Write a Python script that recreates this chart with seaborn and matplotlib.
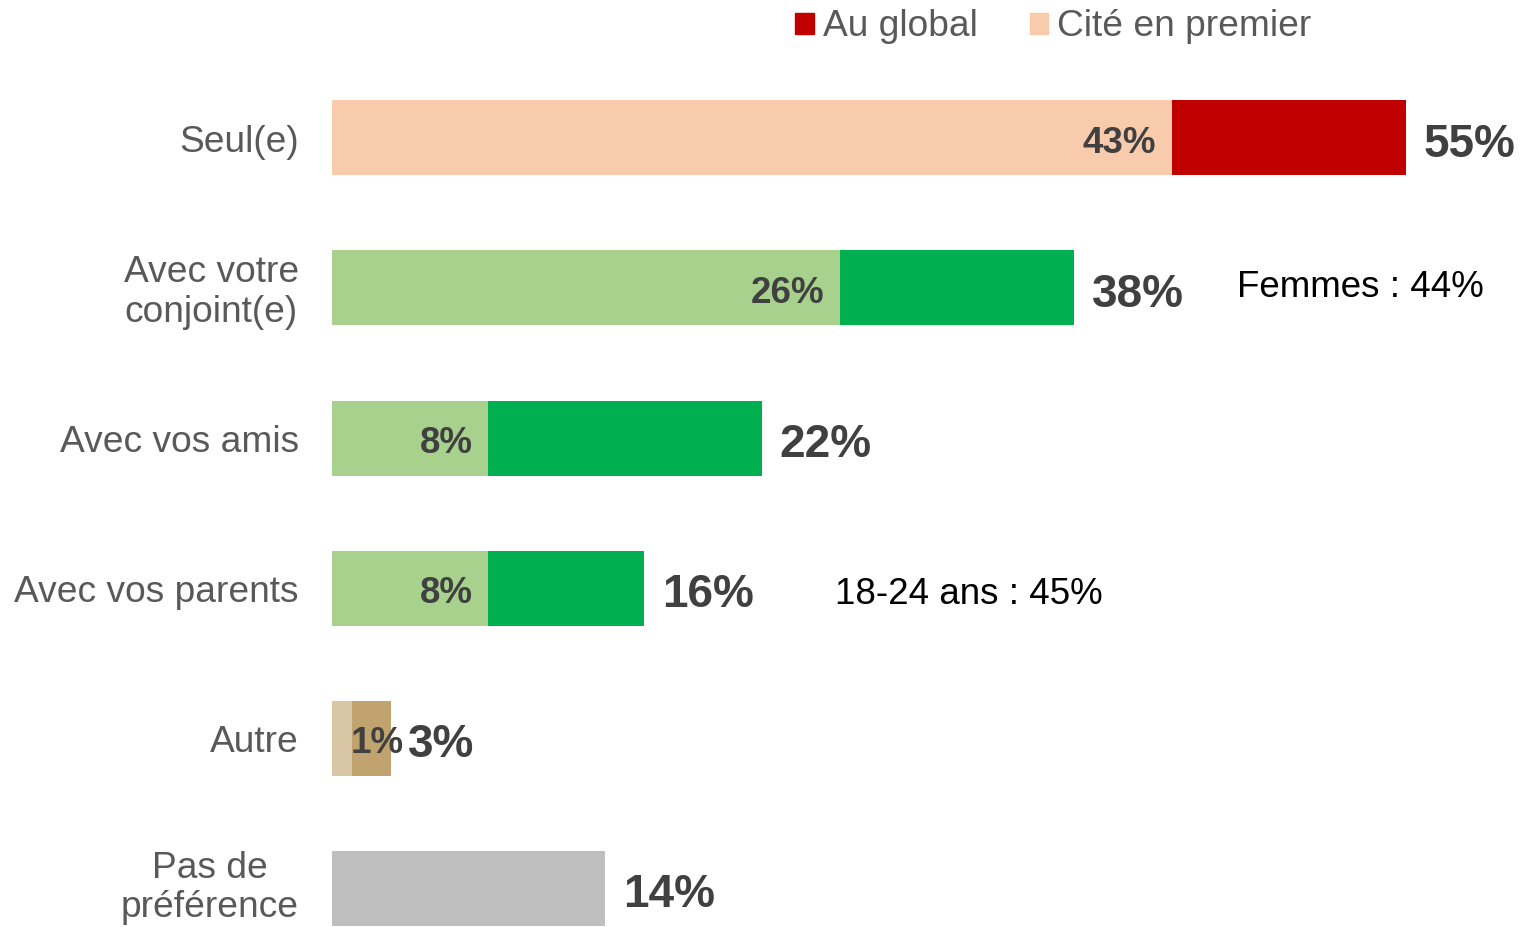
import pandas as pd
import matplotlib
matplotlib.use("Agg")
import matplotlib.pyplot as plt
from matplotlib.patches import Patch
import seaborn as sns

categories = ["Seul(e)", "Avec votre\nconjoint(e)", "Avec vos amis", "Avec vos parents", "Autre", "Pas de\npréférence"]
au_global = [55, 38, 22, 16, 3, 14]
cite_premier = [43, 26, 8, 8, 1, None]
notes = {1: "Femmes : 44%", 3: "18-24 ans : 45%"}
note_x = {1: 46.35, 3: 25.75}
note_dy = {1: 0.0, 3: 0.04}

global_colors = ["#C00000", "#00B050", "#00B050", "#00B050", "#C0A36E", "#BFBFBF"]
first_colors = ["#F8CBAD", "#A9D18E", "#A9D18E", "#A9D18E", "#D9C6A5", "#BFBFBF"]

sns.set_style("white")
plt.rcParams['font.family'] = ['Liberation Sans', 'DejaVu Sans']

df = pd.DataFrame({"cat": categories, "global": au_global,
                   "first": [v if v is not None else 0 for v in cite_premier]})

fig = plt.figure(figsize=(15.27, 9.27), dpi=100)
ax = fig.add_axes([332 / 1527, 0, 1 - 332 / 1527, 1])

sns.barplot(data=df, y="cat", x="global", hue="cat", palette=global_colors,
            width=0.5, orient="h", legend=False, ax=ax, saturation=1, linewidth=0)
sns.barplot(data=df, y="cat", x="first", hue="cat", palette=first_colors,
            width=0.5, orient="h", legend=False, ax=ax, saturation=1, linewidth=0)

ax.set_xlim(0, 1195 / 19.53)
ax.set_ylim(5.26, -0.92)
ax.set_xlabel("")
ax.set_ylabel("")
ax.set_xticks([])
ax.set_yticks([])
sns.despine(ax=ax, left=True, bottom=True)

for i, cat in enumerate(categories):
    dy = 0.0 if i == len(categories) - 1 else 0.03
    ax.text(-1.7, i + dy, cat, ha="right", va="center", multialignment="center",
            fontsize=26.7, color="#595959", linespacing=1.17)
    ax.text(au_global[i] + 0.9, i + 0.045, f"{au_global[i]}%", ha="left", va="center",
            fontsize=33, fontweight="bold", color="#404040")
    first = cite_premier[i]
    if first is not None:
        if first >= 5:
            ax.text(first - 0.8, i + 0.035, f"{first}%", ha="right", va="center",
                    fontsize=26.5, fontweight="bold", color="#404040")
        else:
            ax.text(first - 0.05, i + 0.035, f"{first}%", ha="left", va="center",
                    fontsize=26.5, fontweight="bold", color="#404040")
    if i in notes:
        ax.text(note_x[i], i + note_dy[i], notes[i], ha="left", va="center",
                fontsize=26.5, color="black")

handles = [Patch(color="#C00000", label="Au global"),
           Patch(color="#F8CBAD", label="Cité en premier")]
fig.legend(handles=handles, loc="center left", bbox_to_anchor=(795 / 1527, 1 - 27 / 927),
           ncol=2, frameon=False, fontsize=26.7, labelcolor="#595959",
           handlelength=0.5, handleheight=0.5, handletextpad=0.25, columnspacing=1.4,
           borderpad=0, borderaxespad=0)

fig.savefig("out.png", dpi=100)
